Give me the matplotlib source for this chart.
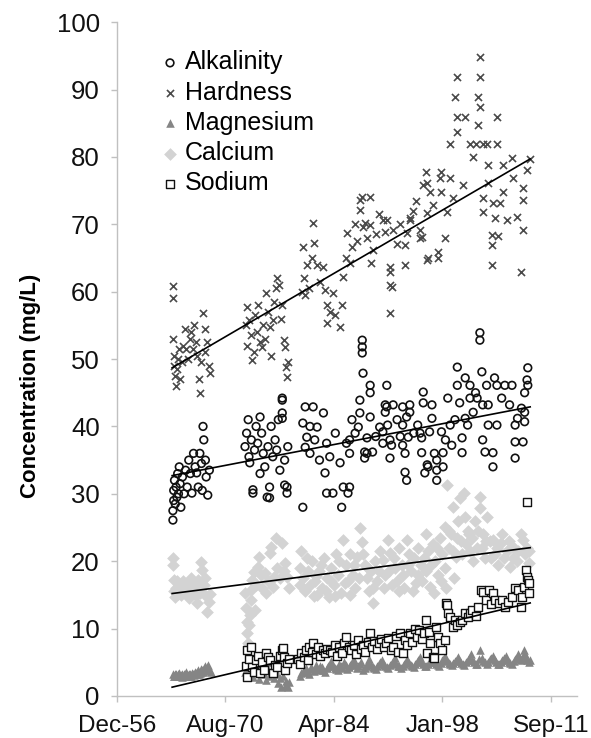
#!/usr/bin/env python3
"""Long-term water chemistry concentrations with linear trends."""

import datetime as dt

import matplotlib
matplotlib.use("Agg")
import matplotlib.pyplot as plt
import matplotlib.dates as mdates

# (decimal year, mg/L)
ALKALINITY = [
    (1964.0, 26.1), (1964.0, 27.5), (1964.1, 29.0), (1964.1, 30.5), (1964.2, 32.0),
    (1964.3, 28.5), (1964.4, 31.0), (1964.5, 29.5), (1964.6, 33.0), (1964.7, 30.0),
    (1964.8, 34.0), (1964.9, 31.5), (1965.0, 28.0), (1965.2, 32.5), (1965.4, 30.0),
    (1965.6, 33.5), (1965.8, 31.0), (1966.0, 35.0), (1966.2, 33.0), (1966.4, 30.1),
    (1966.6, 36.0), (1966.8, 34.0), (1967.0, 33.1), (1967.2, 31.0), (1967.4, 36.0),
    (1967.6, 34.5), (1967.7, 30.5), (1967.8, 40.0), (1967.9, 38.0), (1968.1, 35.0),
    (1968.2, 32.5), (1968.4, 29.8), (1968.6, 33.5),
    (1973.1, 37.0), (1973.3, 39.0), (1973.5, 41.0), (1973.6, 35.5), (1973.7, 34.6),
    (1973.9, 38.0), (1974.1, 30.6), (1974.1, 30.1), (1974.3, 36.5), (1974.5, 40.0),
    (1974.7, 37.5), (1975.0, 41.4), (1975.0, 33.0), (1975.2, 39.0), (1975.4, 36.0),
    (1975.6, 34.0), (1975.9, 29.5), (1976.0, 37.0), (1976.2, 31.0), (1976.2, 29.4),
    (1976.4, 40.0), (1976.6, 35.5), (1976.9, 38.0), (1977.1, 36.5), (1977.3, 41.0),
    (1977.5, 33.5), (1977.8, 43.9), (1977.8, 44.2), (1977.8, 42.0), (1977.8, 41.2),
    (1978.1, 35.0), (1978.1, 31.3), (1978.4, 31.0), (1978.4, 30.1), (1978.5, 37.0),
    (1980.4, 28.0), (1980.4, 40.5), (1980.7, 42.9), (1980.7, 36.9), (1980.9, 38.4),
    (1981.3, 36.0), (1981.3, 40.0), (1981.7, 42.9), (1981.9, 38.0), (1982.2, 39.9),
    (1982.5, 35.0), (1983.0, 42.0), (1983.2, 33.1), (1983.4, 37.5), (1983.4, 30.1),
    (1983.8, 35.5), (1984.2, 30.1), (1984.5, 39.0), (1985.1, 34.6), (1985.3, 28.0),
    (1985.5, 31.0), (1985.9, 37.5), (1986.1, 30.1), (1986.3, 38.0), (1986.3, 36.0),
    (1986.3, 31.0), (1986.6, 41.0), (1987.0, 39.0), (1987.4, 39.9), (1987.6, 43.9),
    (1987.6, 42.0), (1987.9, 52.8), (1987.9, 51.8), (1987.9, 50.9), (1988.0, 47.9),
    (1988.2, 36.2), (1988.2, 35.3), (1988.5, 38.3), (1988.5, 36.0), (1988.9, 46.1),
    (1988.9, 45.0), (1988.9, 41.4), (1989.2, 36.2), (1989.6, 38.5), (1990.1, 39.9),
    (1990.5, 39.2), (1990.5, 37.5), (1990.8, 43.2), (1990.8, 42.1), (1991.0, 46.1),
    (1991.0, 42.9), (1991.1, 40.2), (1991.4, 38.0), (1991.4, 35.3), (1991.6, 37.2),
    (1991.8, 43.2), (1992.3, 41.0), (1992.7, 38.5), (1993.0, 42.9), (1993.0, 40.2),
    (1993.0, 37.2), (1993.3, 36.0), (1993.3, 33.2), (1993.5, 32.0), (1993.5, 41.4),
    (1993.7, 38.4), (1993.9, 43.2), (1993.9, 42.1), (1994.4, 39.0), (1994.9, 40.2),
    (1995.2, 39.0), (1995.4, 38.3), (1995.4, 36.1), (1995.6, 45.1), (1995.6, 43.5),
    (1995.8, 33.1), (1996.1, 34.3), (1996.2, 34.0), (1996.4, 39.2), (1996.7, 43.2),
    (1996.7, 41.2), (1997.0, 36.0), (1997.3, 35.0), (1997.3, 33.5), (1997.3, 32.0),
    (1997.9, 39.2), (1998.1, 36.1), (1998.1, 34.0), (1998.4, 38.0), (1998.7, 44.2),
    (1999.0, 40.2), (1999.2, 37.2), (1999.6, 41.0), (1999.9, 48.8), (1999.9, 46.1),
    (2000.2, 43.5), (2000.5, 38.3), (2000.5, 36.1), (2000.9, 47.2), (2000.9, 41.2),
    (2001.2, 40.2), (2001.5, 46.1), (2001.5, 44.2), (2001.9, 42.1), (2002.2, 45.0),
    (2002.4, 44.2), (2002.75, 53.9), (2002.75, 52.8), (2003.0, 48.1), (2003.1, 43.2),
    (2003.1, 38.0), (2003.4, 36.2), (2003.6, 46.1), (2003.8, 43.2), (2003.8, 40.2),
    (2004.4, 36.1), (2004.4, 34.0), (2004.6, 47.2), (2004.9, 46.1), (2004.9, 40.2),
    (2005.5, 44.2), (2005.9, 46.1), (2006.5, 43.2), (2006.8, 46.1), (2007.2, 40.2),
    (2007.2, 37.7), (2007.2, 35.3), (2007.5, 41.2), (2008.0, 42.7), (2008.2, 37.7),
    (2008.4, 42.1), (2008.4, 45.0), (2008.4, 40.7), (2008.7, 46.9), (2008.8, 48.7),
    (2008.8, 46.1),
]

HARDNESS = [
    (1964.0, 60.8), (1964.0, 59.0), (1964.0, 53.0), (1964.2, 50.5), (1964.2, 49.0),
    (1964.3, 47.5), (1964.4, 46.0), (1964.5, 48.5), (1964.6, 50.0), (1964.8, 51.5),
    (1964.9, 47.0), (1965.1, 49.5), (1965.3, 52.0), (1965.5, 54.5), (1965.7, 51.5),
    (1965.9, 50.0), (1966.1, 53.0), (1966.3, 54.0), (1966.5, 51.5), (1966.7, 55.0),
    (1966.9, 52.5), (1967.1, 50.5), (1967.3, 47.0), (1967.4, 45.0), (1967.6, 49.5),
    (1967.8, 56.8), (1968.0, 54.5), (1968.1, 51.0), (1968.3, 52.5), (1968.5, 49.0),
    (1968.7, 48.0),
    (1973.2, 55.0), (1973.3, 52.0), (1973.4, 57.7), (1973.6, 55.8), (1973.8, 53.5),
    (1974.0, 49.9), (1974.2, 51.0), (1974.4, 56.5), (1974.6, 54.0), (1974.8, 58.0),
    (1975.0, 52.5), (1975.2, 51.8), (1975.4, 55.0), (1975.6, 53.0), (1975.8, 59.8),
    (1976.0, 57.0), (1976.2, 54.7), (1976.4, 50.5), (1976.6, 55.8), (1976.8, 58.5),
    (1977.0, 60.5), (1977.2, 62.0), (1977.4, 61.0), (1977.6, 56.0), (1977.8, 58.0),
    (1978.0, 52.8), (1978.1, 51.8), (1978.3, 48.8), (1978.4, 47.3), (1978.5, 49.5),
    (1980.3, 60.0), (1980.4, 66.6), (1980.5, 62.0), (1980.7, 59.5), (1980.9, 64.0),
    (1981.2, 60.5), (1981.5, 65.0), (1981.7, 70.2), (1981.8, 67.2), (1982.2, 64.0),
    (1982.6, 61.5), (1983.0, 63.6), (1983.2, 60.2), (1983.4, 58.0), (1983.5, 55.3),
    (1983.8, 57.0), (1984.2, 59.8), (1984.5, 56.5), (1985.1, 54.7), (1985.3, 58.0),
    (1985.5, 62.2), (1985.8, 65.0), (1986.0, 68.7), (1986.3, 64.2), (1986.6, 66.6),
    (1987.0, 70.0), (1987.3, 67.5), (1987.6, 72.1), (1987.6, 73.6), (1987.9, 74.0),
    (1988.0, 69.6), (1988.2, 70.2), (1988.5, 68.0), (1988.9, 74.0), (1988.9, 69.9),
    (1989.0, 64.2), (1989.2, 66.2), (1989.6, 68.5), (1990.0, 71.5), (1990.5, 70.6),
    (1990.8, 68.8), (1991.0, 70.6), (1991.4, 63.6), (1991.4, 62.9), (1991.4, 61.0),
    (1991.6, 60.7), (1991.4, 56.8), (1991.8, 69.1), (1992.3, 67.0), (1992.7, 70.0),
    (1993.3, 66.9), (1993.3, 63.9), (1993.6, 68.7), (1993.9, 70.6), (1993.9, 70.9),
    (1994.3, 72.0), (1994.7, 73.5), (1995.2, 69.1), (1995.2, 67.9), (1995.4, 68.1),
    (1995.6, 75.8), (1995.9, 77.7), (1996.1, 76.1), (1996.1, 71.7), (1996.1, 64.7),
    (1996.2, 65.0), (1996.4, 74.8), (1996.8, 72.8), (1997.5, 65.9), (1997.5, 65.0),
    (1997.7, 76.8), (1997.9, 77.7), (1997.9, 74.8), (1998.3, 67.9), (1998.6, 71.8),
    (1999.0, 81.9), (1999.0, 76.8), (1999.3, 73.9), (1999.6, 88.9), (1999.85, 91.8),
    (1999.85, 85.9), (1999.85, 83.7), (2000.6, 75.8), (2000.9, 85.9), (2001.5, 81.9),
    (2001.9, 80.0), (2002.2, 81.9), (2002.5, 88.9), (2002.5, 84.7), (2002.75, 94.8),
    (2002.75, 91.8), (2002.75, 87.4), (2003.1, 81.9), (2003.1, 73.9), (2003.1, 71.8),
    (2003.6, 81.9), (2003.8, 78.8), (2003.8, 76.1), (2004.3, 68.4), (2004.3, 66.9),
    (2004.3, 63.9), (2004.4, 73.1), (2004.6, 70.9), (2004.9, 85.9), (2004.9, 81.9),
    (2005.0, 68.2), (2005.3, 73.1), (2005.7, 78.8), (2005.7, 74.8), (2006.2, 70.6),
    (2006.8, 79.8), (2006.9, 76.8), (2007.4, 71.1), (2008.0, 62.9), (2008.2, 75.4),
    (2008.2, 73.6), (2008.2, 69.1), (2008.7, 78.0), (2009.1, 79.7),
]

MAGNESIUM = [
    (1964.0, 3.2), (1964.1, 3.0), (1964.2, 2.9), (1964.3, 3.2), (1964.4, 3.3),
    (1964.5, 2.9), (1964.6, 3.0), (1964.7, 3.3), (1964.8, 3.4), (1964.9, 3.0),
    (1965.0, 3.1), (1965.1, 3.3), (1965.2, 2.8), (1965.3, 3.0), (1965.4, 3.2),
    (1965.5, 3.2), (1965.6, 3.5), (1965.7, 3.3), (1965.8, 3.0), (1965.9, 3.1),
    (1966.0, 3.3), (1966.1, 3.2), (1966.2, 2.9), (1966.3, 3.0), (1966.4, 3.4),
    (1966.5, 3.3), (1966.6, 3.1), (1966.7, 3.2), (1966.8, 3.6), (1966.9, 3.4),
    (1967.0, 3.2), (1967.1, 3.5), (1967.2, 3.8), (1967.3, 3.3), (1967.4, 3.4),
    (1967.5, 3.6), (1967.6, 4.0), (1967.7, 3.8), (1967.8, 3.5), (1967.9, 4.2),
    (1968.0, 4.4), (1968.1, 3.7), (1968.2, 3.9), (1968.3, 4.3), (1968.4, 4.6),
    (1968.6, 4.0), (1968.8, 3.5),
    (1973.1, 3.5), (1973.3, 4.2), (1973.5, 5.2), (1973.7, 3.0), (1973.9, 4.5),
    (1974.1, 2.8), (1974.3, 3.8), (1974.5, 5.5), (1974.7, 4.0), (1974.9, 2.5),
    (1975.1, 3.5), (1975.3, 4.8), (1975.5, 3.2), (1975.7, 2.4), (1975.9, 4.3),
    (1976.1, 3.0), (1976.3, 5.0), (1976.5, 3.6), (1976.7, 2.6), (1976.9, 4.0),
    (1977.1, 3.2), (1977.3, 1.9), (1977.5, 2.6), (1977.7, 1.3), (1977.9, 3.0),
    (1978.1, 1.5), (1978.3, 2.2), (1978.5, 1.4), (1978.7, 2.0),
    (1980.0, 3.0), (1980.2, 3.4), (1980.4, 3.6), (1980.6, 3.9), (1980.8, 4.2),
    (1981.0, 3.6), (1981.2, 3.3), (1981.4, 4.3), (1981.6, 4.0), (1981.8, 3.7),
    (1982.0, 4.6), (1982.2, 4.1), (1982.4, 3.8), (1982.6, 4.5), (1982.8, 4.3),
    (1983.0, 3.9), (1983.2, 3.5), (1983.4, 4.2), (1983.6, 4.4), (1983.8, 4.8),
    (1984.0, 5.2), (1984.2, 4.4), (1984.4, 4.1), (1984.6, 4.0), (1984.8, 3.8),
    (1985.0, 4.7), (1985.2, 4.5), (1985.4, 4.2), (1985.6, 5.0), (1985.8, 4.6),
    (1986.0, 4.0), (1986.2, 4.3), (1986.4, 4.6), (1986.6, 5.0), (1986.8, 5.4),
    (1987.0, 4.6), (1987.2, 4.2), (1987.4, 4.4), (1987.6, 4.8), (1987.8, 5.1),
    (1988.0, 3.9), (1988.2, 4.2), (1988.4, 4.5), (1988.6, 4.9), (1988.8, 5.5),
    (1989.0, 4.6), (1989.2, 4.3), (1989.4, 4.2), (1989.6, 4.0), (1989.8, 4.5),
    (1990.0, 4.7), (1990.2, 5.0), (1990.4, 5.3), (1990.6, 4.6), (1990.8, 4.4),
    (1991.0, 4.3), (1991.2, 4.1), (1991.4, 4.6), (1991.6, 4.9), (1991.8, 5.2),
    (1992.0, 5.6), (1992.2, 4.8), (1992.4, 4.5), (1992.6, 4.4), (1992.8, 4.2),
    (1993.0, 4.5), (1993.2, 4.8), (1993.4, 5.1), (1993.6, 5.5), (1993.8, 4.9),
    (1994.0, 4.6), (1994.2, 4.4), (1994.4, 4.3), (1994.6, 4.7), (1994.8, 5.0),
    (1995.0, 5.3), (1995.2, 5.8), (1995.4, 5.0), (1995.6, 4.7), (1995.8, 4.5),
    (1996.0, 4.4), (1996.2, 4.7), (1996.4, 5.1), (1996.6, 5.4), (1996.8, 5.9),
    (1997.0, 5.1), (1997.2, 4.8), (1997.4, 4.6), (1997.6, 4.5), (1997.8, 4.9),
    (1998.0, 5.3), (1998.2, 5.6), (1998.4, 6.0), (1998.6, 5.2), (1998.8, 4.9),
    (1999.0, 4.7), (1999.2, 4.6), (1999.4, 4.9), (1999.6, 5.2), (1999.8, 5.5),
    (2000.0, 5.8), (2000.2, 5.2), (2000.4, 4.9), (2000.6, 4.7), (2000.8, 4.6),
    (2001.0, 5.0), (2001.2, 5.4), (2001.4, 5.7), (2001.6, 6.2), (2001.8, 5.4),
    (2002.0, 5.0), (2002.2, 4.8), (2002.4, 4.7), (2002.6, 5.5), (2002.8, 6.8),
    (2003.0, 5.6), (2003.2, 5.2), (2003.4, 5.0), (2003.6, 4.8), (2003.8, 5.1),
    (2004.0, 5.5), (2004.2, 5.7), (2004.4, 6.0), (2004.6, 5.4), (2004.8, 5.0),
    (2005.0, 4.8), (2005.2, 4.7), (2005.4, 5.1), (2005.6, 5.4), (2005.8, 5.6),
    (2006.0, 5.9), (2006.2, 5.3), (2006.4, 5.0), (2006.6, 4.9), (2006.8, 4.8),
    (2007.0, 5.2), (2007.2, 5.5), (2007.4, 5.8), (2007.6, 6.2), (2007.8, 5.6),
    (2008.0, 5.3), (2008.15, 6.0), (2008.3, 6.8), (2008.45, 6.2), (2008.6, 5.6),
    (2008.75, 5.3), (2008.9, 5.0), (2009.1, 5.4),
]

CALCIUM = [
    (1964.0, 20.5), (1964.0, 19.5), (1964.1, 17.2), (1964.2, 15.5), (1964.3, 14.7),
    (1964.4, 16.0), (1964.5, 17.0), (1964.6, 15.2), (1964.8, 16.3), (1964.9, 15.5),
    (1965.0, 15.0), (1965.2, 15.8), (1965.3, 17.0), (1965.4, 16.6), (1965.6, 15.4),
    (1965.8, 16.0), (1965.9, 15.0), (1966.0, 14.5), (1966.2, 15.3), (1966.3, 17.5),
    (1966.4, 16.8), (1966.6, 15.6), (1966.8, 16.2), (1966.9, 15.0), (1967.0, 13.8),
    (1967.2, 17.2), (1967.4, 15.3), (1967.5, 16.0), (1967.6, 19.9), (1967.7, 18.7),
    (1967.9, 16.5), (1968.0, 17.5), (1968.1, 15.0), (1968.3, 12.5), (1968.5, 14.0),
    (1968.7, 15.2),
    (1973.1, 15.3), (1973.2, 13.0), (1973.3, 11.0), (1973.4, 9.3), (1973.5, 7.9),
    (1973.6, 10.5), (1973.7, 12.0), (1973.8, 14.2), (1973.9, 15.7), (1974.0, 17.2),
    (1974.2, 18.4), (1974.4, 12.8), (1974.5, 16.5), (1974.7, 19.1), (1974.9, 20.6),
    (1975.1, 18.0), (1975.3, 16.0), (1975.6, 18.2), (1975.8, 15.3), (1976.0, 17.0),
    (1976.2, 21.2), (1976.4, 22.1), (1976.6, 16.2), (1976.8, 17.7), (1977.0, 23.4),
    (1977.2, 19.0), (1977.5, 17.5), (1977.8, 22.7), (1978.0, 18.5), (1978.2, 19.7),
    (1978.4, 17.7), (1978.6, 16.0),
    (1980.0, 19.0), (1980.1, 16.5), (1980.2, 21.5), (1980.4, 17.5), (1980.7, 15.5),
    (1980.9, 20.5), (1981.0, 18.5), (1981.3, 16.5), (1981.6, 20.0), (1981.8, 14.8),
    (1981.9, 17.0), (1982.0, 17.8), (1982.2, 15.0), (1982.5, 18.5), (1982.7, 19.5),
    (1982.8, 16.0), (1983.1, 20.5), (1983.3, 15.5), (1983.4, 17.5), (1983.7, 14.7),
    (1983.9, 17.0), (1984.0, 19.0), (1984.3, 16.5), (1984.5, 14.8), (1984.6, 21.0),
    (1984.9, 18.0), (1985.0, 20.0), (1985.2, 15.3), (1985.5, 23.1), (1985.7, 16.8),
    (1985.8, 19.5), (1986.1, 17.0), (1986.3, 15.0), (1986.4, 21.0), (1986.7, 18.0),
    (1986.9, 19.5), (1987.0, 16.0), (1987.3, 20.6), (1987.5, 17.5), (1987.6, 24.9),
    (1987.9, 22.9), (1988.0, 21.0), (1988.2, 19.5), (1988.5, 17.5), (1988.6, 19.0),
    (1988.8, 15.5), (1989.0, 18.5), (1989.2, 13.8), (1989.3, 16.0), (1989.5, 20.0),
    (1989.8, 17.0), (1990.0, 18.5), (1990.2, 21.5), (1990.5, 20.2), (1990.7, 16.0),
    (1990.8, 18.0), (1991.1, 23.1), (1991.3, 18.5), (1991.4, 21.2), (1991.7, 16.5),
    (1991.9, 20.5), (1992.0, 19.0), (1992.3, 17.0), (1992.5, 15.5), (1992.6, 22.0),
    (1992.9, 19.5), (1993.1, 18.0), (1993.2, 16.0), (1993.5, 23.1), (1993.7, 19.5),
    (1993.8, 21.0), (1994.1, 18.5), (1994.3, 15.5), (1994.4, 20.5), (1994.7, 16.8),
    (1994.9, 18.0), (1995.0, 22.0), (1995.3, 19.5), (1995.5, 17.0), (1995.7, 20.5),
    (1995.9, 24.0), (1996.0, 18.5), (1996.2, 21.5), (1996.5, 16.2), (1996.6, 19.5),
    (1996.8, 22.5), (1997.0, 15.3), (1997.1, 20.0), (1997.3, 22.0), (1997.4, 18.0),
    (1997.7, 23.5), (1997.9, 17.0), (1998.0, 21.0), (1998.3, 25.1), (1998.4, 19.0),
    (1998.5, 16.0), (1998.6, 31.3), (1998.8, 22.0), (1998.9, 24.5), (1999.1, 24.0),
    (1999.3, 21.5), (1999.4, 28.0), (1999.5, 17.5), (1999.7, 20.6), (1999.9, 23.5),
    (2000.0, 26.0), (2000.2, 29.4), (2000.4, 23.0), (2000.5, 21.0), (2000.7, 30.1),
    (2000.9, 26.6), (2001.0, 22.5), (2001.2, 24.5), (2001.4, 24.0), (2001.5, 21.5),
    (2001.8, 23.5), (2001.9, 20.0), (2002.1, 26.0), (2002.4, 22.0), (2002.5, 24.5),
    (2002.75, 29.5), (2002.75, 27.9), (2003.0, 22.0), (2003.1, 24.0), (2003.4, 20.5),
    (2003.5, 23.0), (2003.7, 26.6), (2004.0, 23.0), (2004.2, 20.5), (2004.4, 23.1),
    (2004.7, 21.0), (2004.9, 22.0), (2005.0, 19.5), (2005.4, 22.7), (2005.6, 24.0),
    (2005.8, 20.5), (2006.2, 21.5), (2006.4, 23.0), (2006.6, 19.1), (2006.9, 20.5),
    (2007.0, 22.0), (2007.4, 20.0), (2007.6, 21.5), (2007.8, 15.7), (2008.0, 24.0),
    (2008.2, 23.1), (2008.5, 21.0), (2008.7, 22.0), (2008.9, 19.7), (2009.0, 21.5),
]

SODIUM = [
    (1973.2, 4.5), (1973.3, 2.8), (1973.4, 6.8), (1973.6, 5.5), (1973.8, 7.3),
    (1974.0, 4.3), (1974.2, 3.6), (1974.5, 5.3), (1974.8, 6.0), (1975.0, 3.4),
    (1975.3, 5.0), (1975.5, 3.9), (1975.8, 6.4), (1976.0, 5.8), (1976.3, 5.3),
    (1976.6, 3.4), (1976.9, 4.6), (1977.2, 4.3), (1977.5, 6.0), (1977.8, 6.8),
    (1977.9, 7.1), (1978.0, 5.8), (1978.2, 3.9), (1978.4, 4.9), (1978.6, 5.5),
    (1979.8, 5.5), (1980.0, 4.8), (1980.2, 6.4), (1980.5, 5.8), (1980.8, 6.8),
    (1981.0, 5.3), (1981.2, 7.3), (1981.5, 6.5), (1981.7, 7.9), (1982.0, 6.2),
    (1982.3, 7.3), (1982.6, 6.0), (1982.9, 6.8), (1983.2, 6.3), (1983.5, 7.0),
    (1983.8, 6.8), (1984.1, 6.5), (1984.4, 7.5), (1984.7, 6.0), (1985.0, 7.2),
    (1985.3, 6.4), (1985.6, 7.8), (1985.9, 8.8), (1986.2, 7.3), (1986.5, 6.8),
    (1986.8, 7.6), (1987.1, 6.2), (1987.4, 8.3), (1987.7, 7.0), (1988.0, 7.6),
    (1988.3, 6.5), (1988.6, 8.0), (1988.9, 9.3), (1989.1, 7.3), (1989.4, 8.2),
    (1989.7, 6.9), (1990.0, 7.8), (1990.3, 8.5), (1990.6, 7.3), (1990.9, 7.9),
    (1991.2, 8.6), (1991.5, 6.8), (1991.8, 7.3), (1992.1, 8.9), (1992.4, 6.5),
    (1992.7, 9.3), (1993.0, 6.4), (1993.3, 8.3), (1993.6, 7.5), (1993.9, 9.3),
    (1994.2, 8.0), (1994.5, 10.0), (1994.8, 8.7), (1995.1, 9.8), (1995.4, 8.5),
    (1995.7, 9.3), (1996.0, 11.3), (1996.1, 6.4), (1996.3, 9.5), (1996.5, 7.9),
    (1996.8, 5.8), (1997.0, 5.6), (1997.2, 10.2), (1997.4, 8.8), (1997.7, 7.9),
    (1998.0, 6.8), (1998.3, 8.3), (1998.5, 13.8), (1998.6, 13.5), (1998.7, 12.3),
    (1999.0, 11.7), (1999.3, 10.2), (1999.6, 11.3), (1999.9, 10.5), (2000.2, 11.0),
    (2000.5, 11.3), (2000.9, 12.3), (2001.2, 11.7), (2001.5, 12.3), (2001.8, 12.8),
    (2002.2, 11.9), (2002.5, 13.2), (2002.9, 15.7), (2003.1, 15.4), (2003.5, 14.2),
    (2003.9, 15.7), (2004.2, 13.6), (2004.4, 15.3), (2004.7, 14.2), (2005.1, 13.8),
    (2005.5, 14.2), (2005.9, 13.2), (2006.3, 14.0), (2006.8, 14.7), (2007.2, 16.0),
    (2007.6, 15.7), (2007.9, 13.2), (2008.1, 14.7), (2008.3, 16.2), (2008.6, 18.7),
    (2008.7, 17.7), (2008.8, 17.2), (2008.9, 16.8), (2009.0, 15.3), (2008.7, 28.8),
]

# linear trend lines: values at the first and last trend year
TREND_YEARS = [1963.9, 2009.1]
TREND_ALKALINITY = [32.7, 42.9]
TREND_HARDNESS = [48.7, 79.7]
TREND_CALCIUM = [15.2, 22.0]
TREND_SODIUM = [1.3, 13.8]

Y_TICKS = list(range(0, 101, 10))
AXIS_START = dt.datetime(1956, 12, 11)
TICK_STEP_DAYS = 5000
AXIS_SPAN_DAYS = 21200


def to_date(year):
    """Convert a decimal year to a datetime."""
    whole = int(year)
    return dt.datetime(whole, 1, 1) + dt.timedelta(days=(year - whole) * 365.25)


def split(points):
    return [to_date(p[0]) for p in points], [p[1] for p in points]


plt.rcParams["font.family"] = ["Liberation Sans", "DejaVu Sans"]

fig = plt.figure(figsize=(5.91, 7.38), dpi=100)
ax = fig.add_axes([0.198, 0.057, 0.778, 0.913])

x, y = split(CALCIUM)
h_ca = ax.scatter(x, y, marker="D", s=42, color="#d3d3d3", linewidths=0, label="Calcium", zorder=2)
x, y = split(MAGNESIUM)
h_mg = ax.scatter(x, y, marker="^", s=38, color="#858585", linewidths=0, label="Magnesium", zorder=3)
x, y = split(ALKALINITY)
h_alk = ax.scatter(x, y, marker="o", s=30, facecolors="none", edgecolors="#111111",
                   linewidths=1.2, label="Alkalinity", zorder=4)
x, y = split(HARDNESS)
h_hard = ax.scatter(x, y, marker="x", s=26, color="#4a4a4a", linewidths=1.2,
                    label="Hardness", zorder=5)
x, y = split(SODIUM)
h_na = ax.scatter(x, y, marker="s", s=32, facecolors="white", edgecolors="#111111",
                  linewidths=1.0, label="Sodium", zorder=6)

trend_x = [to_date(t) for t in TREND_YEARS]
for values in (TREND_ALKALINITY, TREND_HARDNESS, TREND_CALCIUM, TREND_SODIUM):
    ax.plot(trend_x, values, color="black", linewidth=1.2, zorder=7)

ax.set_xlim(AXIS_START, AXIS_START + dt.timedelta(days=AXIS_SPAN_DAYS))
ax.set_xticks([AXIS_START + dt.timedelta(days=TICK_STEP_DAYS * k) for k in range(5)])
ax.xaxis.set_major_formatter(mdates.DateFormatter("%b-%y"))
ax.set_ylim(0, 100)
ax.set_yticks(Y_TICKS)

for side in ("top", "right"):
    ax.spines[side].set_visible(False)
for side in ("left", "bottom"):
    ax.spines[side].set_color("#c0c0c0")
    ax.spines[side].set_linewidth(1.0)
ax.tick_params(axis="both", which="major", direction="out", length=4.5, width=1.0,
               color="#c0c0c0", labelcolor="#111111")
ax.tick_params(axis="x", labelsize=17.5, pad=9)
ax.tick_params(axis="y", labelsize=18.5, pad=8)

ax.set_ylabel("Concentration (mg/L)", fontsize=16, fontweight="bold")
ax.yaxis.set_label_coords(-0.165, 0.46)

ax.legend([h_alk, h_hard, h_mg, h_ca, h_na],
          ["Alkalinity", "Hardness", "Magnesium", "Calcium", "Sodium"],
          loc="upper left", bbox_to_anchor=(0.099, 0.958), frameon=False,
          fontsize=18, handlelength=0.6, handletextpad=0.3, labelspacing=0.25,
          borderpad=0, borderaxespad=0, scatterpoints=1)

fig.savefig("out.png", dpi=100)
